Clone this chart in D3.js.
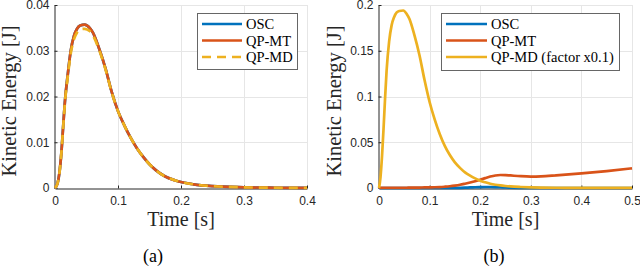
<!DOCTYPE html>
<html>
<head>
<meta charset="utf-8">
<script src="https://cdn.jsdelivr.net/npm/d3@7"></script>
<style>
  body { margin: 0; background: #fff; }
  svg { display: block; }
</style>
</head>
<body>
<svg id="fig" width="640" height="268"></svg>
<script>
// panel (a) data
var timeA = [0, 0.004, 0.007, 0.01, 0.013, 0.016, 0.02, 0.025, 0.03, 0.035, 0.04, 0.047, 0.055, 0.06, 0.07, 0.08, 0.09, 0.1, 0.11, 0.12, 0.13, 0.14, 0.15, 0.16, 0.175, 0.19, 0.2, 0.22, 0.25, 0.3, 0.35, 0.4];
var oscA  = [0, 0.0010, 0.0033, 0.0075, 0.0135, 0.0193, 0.0245, 0.0300, 0.0332, 0.0348, 0.0355, 0.0357, 0.0350, 0.0340, 0.0305, 0.0262, 0.0210, 0.0168, 0.0137, 0.0110, 0.0087, 0.0068, 0.0052, 0.0039, 0.0025, 0.0017, 0.0013, 0.0008, 0.0004, 0.00015, 0.00006, 0.00002];
var qpmtA = [0, 0.0010, 0.0033, 0.0075, 0.0135, 0.0193, 0.0245, 0.0300, 0.0332, 0.0348, 0.0355, 0.0357, 0.0350, 0.0340, 0.0305, 0.0262, 0.0210, 0.0168, 0.0137, 0.0110, 0.0087, 0.0068, 0.0052, 0.0039, 0.0025, 0.0017, 0.0013, 0.0008, 0.0004, 0.00015, 0.00006, 0.00002];
var qpmdA = [0, 0.0010, 0.0032, 0.0074, 0.0133, 0.0190, 0.0240, 0.0294, 0.0325, 0.0340, 0.0347, 0.0348, 0.0343, 0.0334, 0.0302, 0.0260, 0.0209, 0.0168, 0.0137, 0.0110, 0.0087, 0.0068, 0.0052, 0.0039, 0.0025, 0.0017, 0.0013, 0.0008, 0.0004, 0.00015, 0.00006, 0.00002];
var xTicksA = [0, 0.1, 0.2, 0.3, 0.4];
var yTicksA = [0, 0.01, 0.02, 0.03, 0.04];
var legendA = ['OSC', 'QP-MT', 'QP-MD'];

// panel (b) data (QP-MD already scaled by 0.1)
var timeB = [0, 0.003, 0.006, 0.009, 0.012, 0.015, 0.02, 0.025, 0.03, 0.035, 0.04, 0.048, 0.055, 0.06, 0.07, 0.08, 0.09, 0.1, 0.11, 0.12, 0.13, 0.14, 0.15, 0.16, 0.17, 0.18, 0.19, 0.2, 0.21, 0.22, 0.23, 0.24, 0.25, 0.26, 0.28, 0.3, 0.32, 0.35, 0.4, 0.45, 0.5];
var oscB  = [0, 0, 0, 0, 0, 0, 0, 0, 0, 0, 0, 0, 0, 0, 0, 0, 0, 0, 0, 0, 0, 0, 0.0001, 0.0002, 0.0004, 0.0006, 0.0008, 0.0010, 0.0011, 0.0011, 0.0010, 0.0008, 0.0006, 0.0004, 0.0002, 0.0001, 0, 0, 0, 0, 0];
var qpmtB = [0.0003, 0.0003, 0.0003, 0.0003, 0.0003, 0.0003, 0.0003, 0.0003, 0.0003, 0.0003, 0.0003, 0.0003, 0.0003, 0.0004, 0.0004, 0.0005, 0.0006, 0.0007, 0.0008, 0.0010, 0.0014, 0.0019, 0.0026, 0.0035, 0.0047, 0.0060, 0.0074, 0.0090, 0.0108, 0.0125, 0.0137, 0.0142, 0.0141, 0.0137, 0.0129, 0.0125, 0.0127, 0.0138, 0.0160, 0.0185, 0.0215];
var qpmdB = [0, 0.012, 0.035, 0.065, 0.098, 0.128, 0.160, 0.178, 0.187, 0.192, 0.1935, 0.194, 0.190, 0.185, 0.167, 0.145, 0.118, 0.094, 0.075, 0.059, 0.046, 0.036, 0.028, 0.022, 0.017, 0.0135, 0.0105, 0.0080, 0.0062, 0.0047, 0.0036, 0.0028, 0.0022, 0.0017, 0.0011, 0.0007, 0.0005, 0.0003, 0.0001, 0.00005, 0.00003];
var xTicksB = [0, 0.1, 0.2, 0.3, 0.4, 0.5];
var yTicksB = [0, 0.05, 0.1, 0.15, 0.2];
var legendB = ['OSC', 'QP-MT', 'QP-MD (factor x0.1)'];

var colors = ['#0072BD', '#D95319', '#EDB120'];
var axisColor = '#262626';
var serif = '"Liberation Serif", "Times New Roman", serif';
var sans = '"Liberation Sans", Arial, sans-serif';

var svg = d3.select('#fig');

function drawPanel(opt) {
  var x = d3.scaleLinear().domain([0, opt.xMax]).range([opt.left, opt.right]);
  var y = d3.scaleLinear().domain([0, opt.yMax]).range([opt.bottom, opt.top]);
  var g = svg.append('g');

  // grid
  g.append('g').selectAll('line.gx').data(opt.xTicks.slice(1)).enter().append('line')
    .attr('x1', function(d) { return Math.round(x(d)) + 0.5; })
    .attr('x2', function(d) { return Math.round(x(d)) + 0.5; })
    .attr('y1', opt.top).attr('y2', opt.bottom)
    .attr('stroke', '#e6e6e6').attr('stroke-width', 1);
  g.append('g').selectAll('line.gy').data(opt.yTicks.slice(1)).enter().append('line')
    .attr('y1', function(d) { return Math.round(y(d)) + 0.5; })
    .attr('y2', function(d) { return Math.round(y(d)) + 0.5; })
    .attr('x1', opt.left).attr('x2', opt.right)
    .attr('stroke', '#e6e6e6').attr('stroke-width', 1);

  // axes (matlab style, ticks inward)
  var xAxis = d3.axisBottom(x).tickValues(opt.xTicks).tickSizeInner(-3).tickSizeOuter(0)
    .tickFormat(function(d) { return d3.format('')(+d.toFixed(2)); });
  var yAxis = d3.axisLeft(y).tickValues(opt.yTicks).tickSizeInner(-3).tickSizeOuter(0)
    .tickFormat(function(d) { return d3.format('')(+d.toFixed(3)); });

  var gx = g.append('g').attr('transform', 'translate(0,' + (opt.bottom + 0.5) + ')').call(xAxis);
  var gy = g.append('g').attr('transform', 'translate(' + (opt.left - 0.5) + ',0)').call(yAxis);
  [gx, gy].forEach(function(a) {
    a.select('.domain').attr('stroke', axisColor);
    a.selectAll('.tick line').attr('stroke', axisColor);
    a.selectAll('.tick text').attr('fill', axisColor).attr('font-family', sans).attr('font-size', 12);
  });
  gx.selectAll('.tick text').attr('y', 8);
  gy.selectAll('.tick text').attr('x', -5);

  // series
  var line = d3.line()
    .x(function(d) { return x(d[0]); })
    .y(function(d) { return y(d[1]); })
    .curve(d3.curveMonotoneX);
  opt.series.forEach(function(s, i) {
    var pts = opt.time.map(function(t, k) { return [t, s[k]]; });
    g.append('path').datum(pts)
      .attr('d', line)
      .attr('fill', 'none')
      .attr('stroke', colors[i])
      .attr('stroke-width', 2.7)
      .attr('stroke-linejoin', 'round')
      .attr('stroke-dasharray', opt.dashed[i] ? '9,6' : null);
  });

  // labels
  g.append('text')
    .attr('x', (opt.left + opt.right) / 2).attr('y', 226)
    .attr('text-anchor', 'middle')
    .attr('font-family', serif).attr('font-size', 20).attr('fill', axisColor)
    .text('Time [s]');
  g.append('text')
    .attr('transform', 'translate(' + opt.ylabX + ',101) rotate(-90)')
    .attr('text-anchor', 'middle')
    .attr('font-family', serif).attr('font-size', 20.5).attr('fill', axisColor)
    .text('Kinetic Energy [J]');
  g.append('text')
    .attr('x', opt.capX).attr('y', 262)
    .attr('text-anchor', 'middle')
    .attr('font-family', serif).attr('font-size', 18).attr('fill', '#000')
    .text(opt.caption);

  // legend
  var lg = g.append('g');
  lg.append('rect')
    .attr('x', opt.leg.x + 0.5).attr('y', opt.leg.y + 0.5)
    .attr('width', opt.leg.w).attr('height', opt.leg.h)
    .attr('fill', '#fff').attr('stroke', '#666').attr('stroke-width', 1);
  opt.legend.forEach(function(name, i) {
    var ry = opt.leg.y + 11 + i * 16.5;
    lg.append('line')
      .attr('x1', opt.leg.x + 5).attr('x2', opt.leg.x + 5 + opt.leg.lineW)
      .attr('y1', ry).attr('y2', ry)
      .attr('stroke', colors[i]).attr('stroke-width', 2.7)
      .attr('stroke-dasharray', opt.legDashed[i] ? '9,6' : null);
    lg.append('text')
      .attr('x', opt.leg.x + 9 + opt.leg.lineW).attr('y', ry)
      .attr('dy', '0.35em')
      .attr('font-family', serif).attr('font-size', 14.5).attr('fill', '#000')
      .text(name);
  });
}

drawPanel({
  left: 55, right: 307, top: 5, bottom: 188,
  xMax: 0.4, yMax: 0.04, xTicks: xTicksA, yTicks: yTicksA,
  time: timeA, series: [oscA, qpmtA, qpmdA], dashed: [false, false, true],
  legend: legendA, legDashed: [false, false, true],
  leg: { x: 197, y: 13, w: 100, h: 56, lineW: 40 },
  ylabX: 16, capX: 153, caption: '(a)'
});

drawPanel({
  left: 379, right: 632, top: 5, bottom: 188,
  xMax: 0.5, yMax: 0.2, xTicks: xTicksB, yTicks: yTicksB,
  time: timeB, series: [oscB, qpmtB, qpmdB], dashed: [false, false, false],
  legend: legendB, legDashed: [false, false, false],
  leg: { x: 441, y: 13, w: 178, h: 57, lineW: 41 },
  ylabX: 341, capX: 494, caption: '(b)'
});
</script>
</body>
</html>
